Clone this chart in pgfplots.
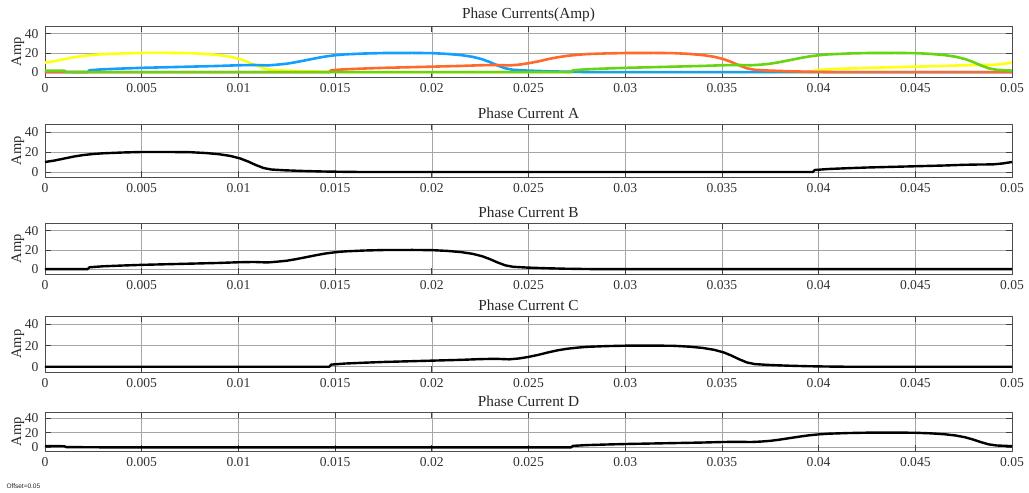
\documentclass[border=0pt]{standalone}
\usepackage{fontspec}
\setmainfont{Liberation Serif}
\newfontfamily\offsetfont{Liberation Sans}
\usepackage{pgfplots}
\usepackage{pgfplotstable}
\pgfplotsset{compat=1.18}

\definecolor{phA}{rgb}{1,1,0.0667}
\definecolor{phB}{rgb}{0.0745,0.6235,1}
\definecolor{phC}{rgb}{1,0.4118,0.1608}
\definecolor{phD}{rgb}{0.3922,0.8314,0.0745}

% phase currents (A) against time (s)
\pgfplotstableread{
t i
0 10
0.0005 11.5
0.001 13.5
0.0015 15.5
0.002 17
0.0025 18
0.003 18.7
0.004 19.5
0.005 20
0.0065 20
0.0075 19.8
0.0083 19
0.009 17.8
0.0096 16
0.0101 13.5
0.0105 10.5
0.0109 7
0.0113 4
0.0117 2.5
0.0124 1.7
0.0134 1
0.0144 0.5
0.0154 0.2
0.0164 0
0.0397 0
0.0398 2
0.0405 3
0.0415 3.8
0.0425 4.5
0.0435 5
0.0445 5.5
0.0455 6
0.0465 6.5
0.0475 7.2
0.0483 7.5
0.049 7.6
0.0495 8.5
0.05 10
}\phaseA

\pgfplotstableread{
t i
0 0
0.0022 0
0.0023 2
0.0030 3
0.0040 3.8
0.0050 4.5
0.0060 5
0.0070 5.5
0.0080 6
0.0090 6.5
0.0100 7.2
0.0108 7.5
0.0115 7.0
0.0120 7.8
0.0125 8.8
0.0130 10.5
0.0135 12.5
0.0140 14.5
0.0145 16.3
0.0150 17.6
0.0155 18.5
0.0165 19.4
0.0175 19.9
0.0190 20
0.0200 19.8
0.0208 19
0.0215 17.8
0.0221 16
0.0226 13.5
0.0230 10.5
0.0234 7
0.0238 4
0.0242 2.5
0.0249 1.7
0.0259 1
0.0269 0.5
0.0279 0.2
0.0289 0
0.05 0
}\phaseB

\pgfplotstableread{
t i
0 0
0.0147 0
0.0148 2
0.0155 3
0.0165 3.8
0.0175 4.5
0.0185 5
0.0195 5.5
0.0205 6
0.0215 6.5
0.0225 7.2
0.0233 7.5
0.0240 7.0
0.0245 7.8
0.0250 9.3
0.0255 11.2
0.0260 13.5
0.0265 15.5
0.0270 17
0.0275 18
0.0280 18.8
0.0290 19.5
0.0300 19.9
0.0315 20
0.0325 19.8
0.0333 19
0.0340 17.8
0.0346 16
0.0351 13.5
0.0355 10.5
0.0359 7
0.0363 4
0.0367 2.5
0.0374 1.7
0.0384 1
0.0394 0.5
0.0404 0.2
0.0414 0
0.05 0
}\phaseC

\pgfplotstableread{
t i
0 1.7
0.0010 1.5
0.0011 0.3
0.0030 0
0.0272 0
0.0273 2
0.0280 3
0.0290 3.8
0.0300 4.5
0.0310 5
0.0320 5.5
0.0330 6
0.0340 6.5
0.0350 7.2
0.0358 7.5
0.0365 7.2
0.0370 7.8
0.0375 8.8
0.0380 10.5
0.0385 12.5
0.0390 14.5
0.0395 16.3
0.0400 17.6
0.0405 18.5
0.0415 19.4
0.0425 19.9
0.0440 20
0.0450 19.8
0.0458 19
0.0465 17.8
0.0471 16
0.0476 13.5
0.0480 10.5
0.0484 7
0.0488 4
0.0492 2.5
0.0499 1.7
0.05 1.7
}\phaseD

\pgfplotsset{
  scopeaxis/.style={
    scale only axis,
    width=967pt,
    anchor=north west,
    xmin=0, xmax=0.05,
    ymin=-5, ymax=48,
    scaled x ticks=false,
    scaled y ticks=false,
    xtick={0,0.005,0.01,0.015,0.02,0.025,0.03,0.035,0.04,0.045,0.05},
    xticklabels={0,0.005,0.01,0.015,0.02,0.025,0.03,0.035,0.04,0.045,0.05},
    ytick={0,20,40},
    yticklabels={0,20,40},
    grid=major,
    major grid style={black!35, line width=0.6pt},
    axis line style={black!70, line width=0.8pt},
    tick align=inside,
    tick pos=both,
    major tick length=6pt,
    tick style={black!75, line width=0.7pt},
    ticklabel style={font=\fontsize{13.6}{15}\selectfont, text=black!80},
    xticklabel style={anchor=center, yshift=-11pt},
    yticklabel style={xshift=-3pt},
    ylabel={Amp},
    ylabel style={font=\fontsize{14.5}{16}\selectfont, text=black!85,
      at={([xshift=-27pt]axis description cs:0,0.5)}, anchor=center},
    title style={font=\fontsize{15.3}{17}\selectfont, text=black!85,
      at={(axis description cs:0.5,1)}, anchor=center, yshift=5pt},
    every axis plot/.append style={line join=round},
  },
}

\begin{document}
\begin{tikzpicture}
\useasboundingbox (0,0) rectangle (1029pt,-493pt);

\begin{axis}[scopeaxis, at={(45pt,-26pt)}, height=51pt, title={Phase Currents(Amp)}]
  \addplot[phA, line width=2.6pt] table[x=t, y=i] {\phaseA};
  \addplot[phB, line width=2.6pt] table[x=t, y=i] {\phaseB};
  \addplot[phC, line width=2.6pt] table[x=t, y=i] {\phaseC};
  \addplot[phD, line width=2.6pt] table[x=t, y=i] {\phaseD};
\end{axis}

\begin{axis}[scopeaxis, at={(45pt,-124pt)}, height=53pt, title={Phase Current A}]
  \addplot[black, line width=2.4pt] table[x=t, y=i] {\phaseA};
\end{axis}

\begin{axis}[scopeaxis, at={(45pt,-223pt)}, height=51pt, title={Phase Current B}]
  \addplot[black, line width=2.4pt] table[x=t, y=i] {\phaseB};
\end{axis}

\begin{axis}[scopeaxis, at={(45pt,-316pt)}, height=56pt, title={Phase Current C}]
  \addplot[black, line width=2.4pt] table[x=t, y=i] {\phaseC};
\end{axis}

\begin{axis}[scopeaxis, at={(45pt,-412pt)}, height=39pt, title={Phase Current D}]
  \addplot[black, line width=2.4pt] table[x=t, y=i] {\phaseD};
\end{axis}

\node[anchor=west, font=\offsetfont\fontsize{6.5}{7}\selectfont, text=black!85]
  at (3pt,-486pt) {Offset=0.05};
\end{tikzpicture}
\end{document}
